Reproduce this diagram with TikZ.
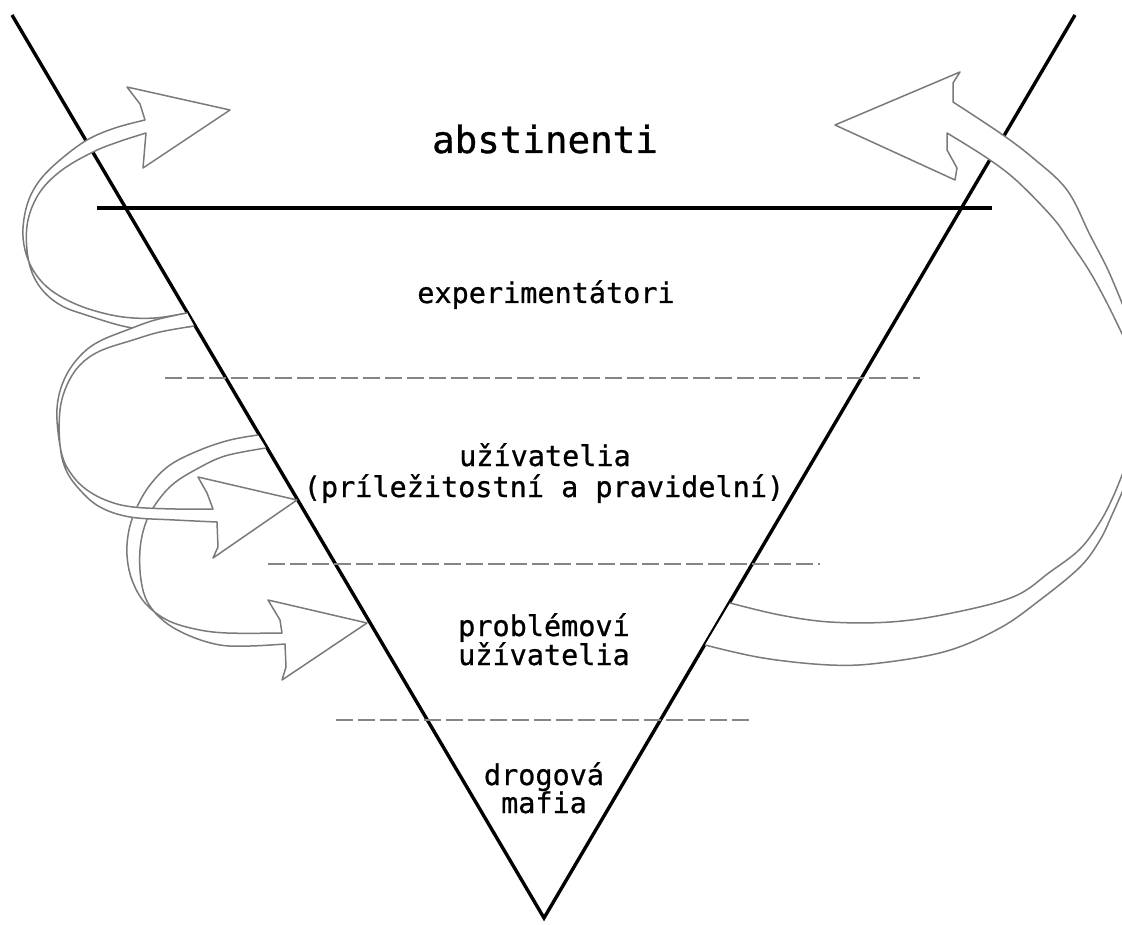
\documentclass[tikz,border=0pt]{standalone}
\usepackage{fontspec}
\newfontfamily\labelfont[FakeBold=0.8]{DejaVu Sans Mono}
\begin{document}
\begin{tikzpicture}[x=1pt,y=-1pt,
  tri/.style={line width=3.4pt, line join=miter},
  divider/.style={line width=3.8pt},
  level/.style={draw=black!48, line width=2.8pt, dash pattern=on 17pt off 5pt},
  ribbon/.style={draw=black!52, line width=1.5pt, line join=round},
  lbl/.style={font=\labelfont\fontsize{28.5}{30}\selectfont, anchor=base, inner sep=0pt},
  title/.style={font=\labelfont\fontsize{37.5}{40}\selectfont, anchor=base, inner sep=0pt}]

\useasboundingbox (0,0) rectangle (1122,925);
\clip (0,0) rectangle (1122,925);
\fill[white] (0,0) rectangle (1122,925);

% inverted triangle
\coordinate (tl) at (12,15);
\coordinate (tr) at (1075,15);
\coordinate (apex) at (544,918);
\draw[tri] (tl) -- (apex) -- (tr);

% solid line under the top level
\coordinate (divL) at (97,208);
\coordinate (divR) at (992,208);
\draw[divider] (divL) -- (divR);

% dashed level borders
\coordinate (d1L) at (165,378); \coordinate (d1R) at (920,378);
\coordinate (d2L) at (268,564); \coordinate (d2R) at (820,564);
\coordinate (d3L) at (336,720); \coordinate (d3R) at (750,720);
\draw[level] (d1L) -- (d1R);
\draw[level] (d2L) -- (d2R);
\draw[level] (d3L) -- (d3R);

% ribbon arrows (outline of a twisted band ending in a head)
\def\ribbonOne{plot[smooth, tension=0.6] coordinates {(187,313) (155,318) (123,317) (92,310) (67,300) (47,287) (33,270) (25,250) (23,228) (28,202) (40,180) (60,160) (87,140) (115,128) (145,120)}
  -- (140,104) -- (127,87) -- (230,110) -- (143,168) -- (146,133)
  -- plot[smooth, tension=0.6] coordinates {(146,133) (118,142) (93,152) (62,170) (40,192) (28,220) (27,250) (33,275) (45,293) (62,306) (83,314) (127,327) (160,329) (194,326)}}

\def\ribbonTwo{plot[smooth, tension=0.6] coordinates {(187,313) (155,320) (127,330) (100,341) (83,353) (68,372) (59,395) (57,420) (62,455) (72,475) (87,490) (108,501) (133,507) (175,509) (213,509)}
  -- (207,493) -- (198,477) -- (297,500) -- (213,558) -- (218,547) -- (217,522)
  -- plot[smooth, tension=0.6] coordinates {(217,522) (175,520) (130,517) (100,507) (80,490) (66,470) (60,445) (60,410) (67,385) (80,365) (100,351) (133,340) (160,332) (194,326)}}

\def\ribbonThree{plot[smooth, tension=0.6] coordinates {(258,435) (230,440) (200,450) (170,465) (150,485) (137,507) (129,530) (127,555) (132,580) (145,603) (167,620) (195,629) (227,633) (282,633)}
  -- (280,620) -- (268,600) -- (367,623) -- (282,680) -- (286,667) -- (285,644)
  -- plot[smooth, tension=0.6] coordinates {(285,644) (250,646) (220,645) (190,636) (165,622) (148,603) (141,580) (140,550) (145,525) (155,505) (172,485) (195,470) (225,456) (266,448)}}

% the band leaves the picture on the right and comes back
\def\ribbonFour{plot[smooth, tension=0.6] coordinates {(730,603) (780,615) (830,622) (890,622) (947,614) (1013,597) (1050,572) (1080,549) (1100,522) (1113,497) (1124,470)}
  -- (1200,470) -- (1200,338)
  -- plot[smooth, tension=0.6] coordinates {(1124,338) (1108,305) (1090,272) (1070,242) (1053,218) (1017,181) (987,158) (947,133)}
  -- (947,150) -- (957,168) -- (955,180) -- (835,125) -- (960,72) -- (953,83) -- (953,102)
  -- plot[smooth, tension=0.6] coordinates {(953,102) (1000,133) (1033,158) (1067,190) (1090,235) (1108,270) (1124,308)}
  -- (1210,308) -- (1210,488)
  -- plot[smooth, tension=0.6] coordinates {(1124,488) (1112,515) (1100,540) (1080,567) (1040,600) (1000,628) (947,651) (880,663) (830,665) (763,658) (705,645)}}

\fill[white] \ribbonOne -- cycle;
\draw[ribbon] \ribbonOne;
\fill[white] \ribbonThree -- cycle;
\draw[ribbon] \ribbonThree;
\fill[white] \ribbonTwo -- cycle;
\draw[ribbon] \ribbonTwo;
\fill[white] \ribbonFour -- cycle;
\draw[ribbon] \ribbonFour;

% level labels
\node[title] (abst) at (545,153) {abstinenti};
\node[lbl] (expe) at (546,303) {experimentátori};
\node[lbl] (uziv) at (545,466) {užívatelia};
\node[lbl] (uzivb) at (544,497) {(príležitostní a pravidelní)};
\node[lbl] (prob) at (544,636) {problémoví};
\node[lbl] (probb) at (544,665) {užívatelia};
\node[lbl] (drog) at (544,785) {drogová};
\node[lbl] (mafi) at (544,813) {mafia};
\end{tikzpicture}
\end{document}
